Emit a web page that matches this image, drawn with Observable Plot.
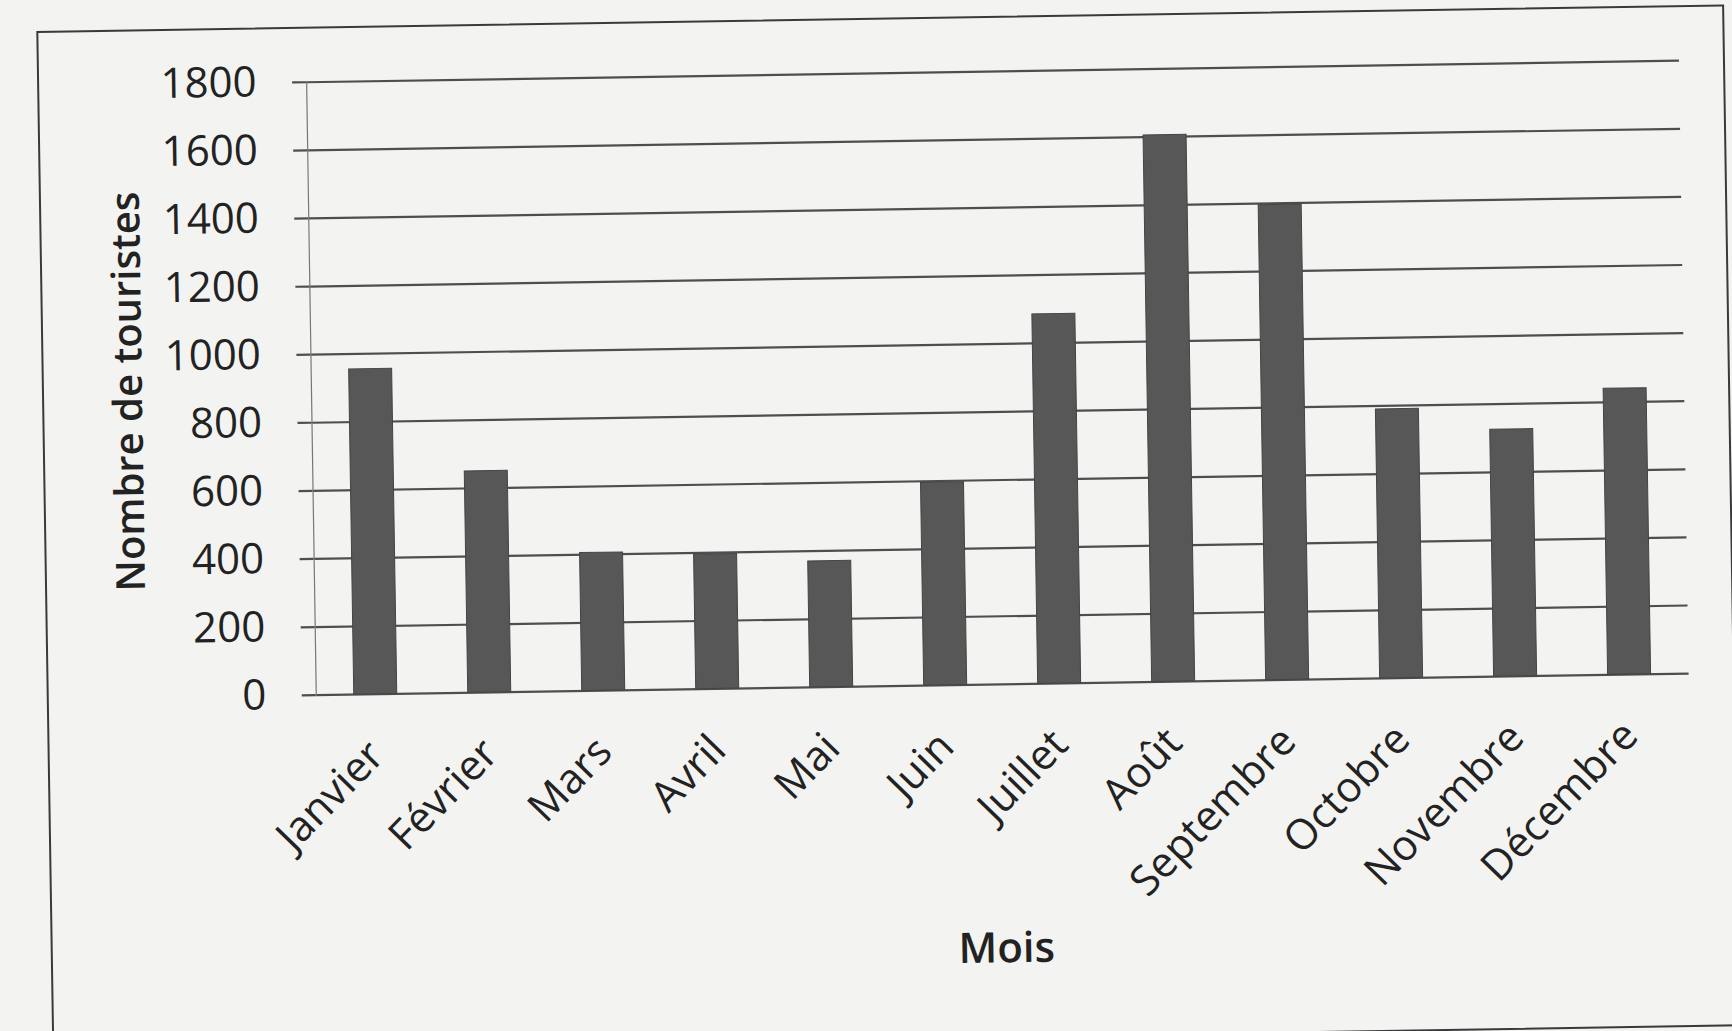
<!DOCTYPE html>
<html><head><meta charset="utf-8">
<script src="https://cdn.jsdelivr.net/npm/d3@7"></script>
<script src="https://cdn.jsdelivr.net/npm/@observablehq/plot@0.6"></script>
<style>
html,body{margin:0;padding:0;width:1732px;height:1031px;overflow:hidden;background:#f3f3f1;}
#wrap{position:absolute;left:0;top:0;width:1732px;height:1031px;transform:rotate(-0.9deg);transform-origin:866px 515px;}
#frame{position:absolute;left:44px;top:18px;width:1688px;height:1022px;border:2px solid #3a3a3a;box-sizing:border-box;}
#chart{position:absolute;left:0;top:0;}
</style>
</head><body>
<div id="wrap"><div id="frame"></div><div id="chart"></div></div>
<script>
const mois = ["Janvier","Février","Mars","Avril","Mai","Juin","Juillet","Août","Septembre","Octobre","Novembre","Décembre"];
const touristes = [955, 650, 405, 395, 370, 595, 1085, 1605, 1395, 790, 725, 840];
const yTicks = [0, 200, 400, 600, 800, 1000, 1200, 1400, 1600, 1800];
const yLabel = "Nombre de touristes";
const xLabel = "Mois";

const data = mois.map((m, i) => ({mois: m, n: touristes[i]}));

const chart = Plot.plot({
  width: 1732, height: 1031,
  marginLeft: 313, marginRight: 46, marginTop: 73, marginBottom: 345,
  style: {background: "transparent", fontFamily: "'Open Sans', sans-serif", fontSize: "42px", color: "#222"},
  x: {domain: mois, paddingInner: 0.62, paddingOuter: 0.31, label: null},
  y: {domain: [0, 1800], ticks: yTicks, label: null, tickFormat: d => String(d)},
  marks: [
    Plot.gridY(yTicks, {stroke: "#3c3c3c", strokeOpacity: 0.9, strokeWidth: 2.2}),
    Plot.axisY(yTicks, {tickSize: 14, tickPadding: 36, stroke: "#3c3c3c", strokeWidth: 2.2, strokeOpacity: 0.9,
      tickFormat: d => String(d),
      label: yLabel, labelAnchor: "center", labelArrow: "none", labelOffset: 198}),
    Plot.frame({anchor: "left", stroke: "#777", strokeWidth: 1.2}),
    Plot.barY(data, {x: "mois", y: "n", fill: "#575757", stroke: "#444", strokeWidth: 1}),
    Plot.axisX({tickSize: 0, tickRotate: -45, tickPadding: 54, dx: 0,
      label: xLabel, labelAnchor: "center", labelArrow: "none", labelOffset: 278})
  ]
});
document.getElementById("chart").appendChild(chart);
d3.select(chart).selectAll("text").filter(function(){ return this.textContent === yLabel || this.textContent === xLabel; })
  .style("font-weight", 600);
d3.select(chart).selectAll("text").filter(function(){ return this.textContent === yLabel; })
  .style("font-size", "40px");
</script>
</body></html>
